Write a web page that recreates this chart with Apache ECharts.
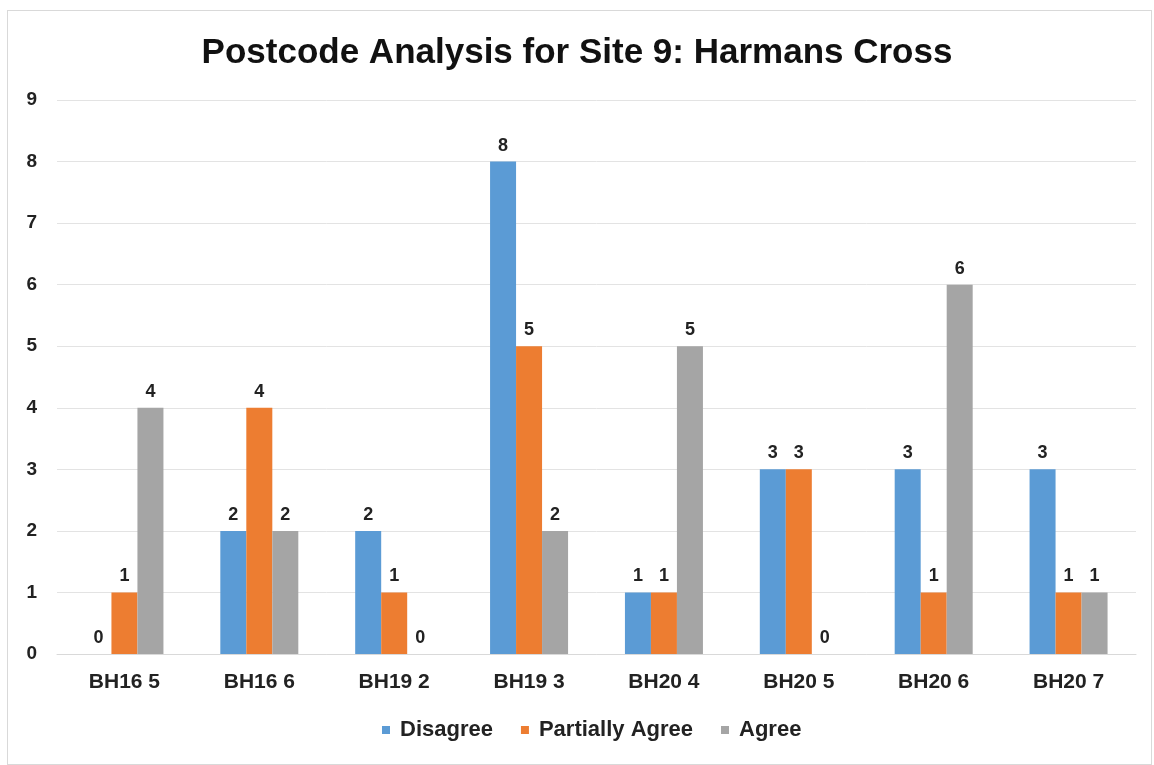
<!DOCTYPE html>
<html>
<head>
<meta charset="utf-8">
<script src="https://cdn.jsdelivr.net/npm/echarts@6/dist/echarts.min.js"></script>
<style>
  html, body { margin: 0; padding: 0; background: #fff; }
  #frame { position: absolute; left: 7px; top: 10px; width: 1145px; height: 755px; border: 1px solid #d9d9d9; box-sizing: border-box; }
  #main { width: 1154px; height: 765px; }
</style>
</head>
<body>
<div id="frame"></div>
<div id="main"></div>
<script>
  // chart data
  var categories = ['BH16 5', 'BH16 6', 'BH19 2', 'BH19 3', 'BH20 4', 'BH20 5', 'BH20 6', 'BH20 7'];
  var disagree = [0, 2, 2, 8, 1, 3, 3, 3];
  var partiallyAgree = [1, 4, 1, 5, 1, 3, 1, 1];
  var agree = [4, 2, 0, 2, 5, 0, 6, 1];
  var yTicks = [0, 1, 2, 3, 4, 5, 6, 7, 8, 9];

  var font = 'Liberation Sans, Arial, sans-serif';
  var label = { show: true, position: 'top', distance: 7, color: '#222', fontFamily: font, fontWeight: 'bold', fontSize: 18 };

  var myChart = echarts.init(document.getElementById('main'));
  myChart.setOption({
    animation: false,
    title: {
      text: 'Postcode Analysis for Site 9: Harmans Cross',
      left: 'center',
      top: 31,
      textStyle: { fontFamily: font, fontWeight: 'bold', fontSize: 35, color: '#111' }
    },
    legend: {
      bottom: 19,
      left: 377,
      itemWidth: 8,
      itemHeight: 8,
      itemGap: 28,
      icon: 'rect',
      textStyle: { fontFamily: font, fontWeight: 'bold', fontSize: 22, color: '#222', padding: [0, 0, 0, 5] },
      data: ['Disagree', 'Partially Agree', 'Agree']
    },
    grid: { left: 57, right: 18, top: 100, bottom: 111 },
    xAxis: {
      type: 'category',
      data: categories,
      axisTick: { show: false },
      axisLine: { lineStyle: { color: '#d9d9d9' } },
      axisLabel: { margin: 18, color: '#222', fontFamily: font, fontWeight: 'bold', fontSize: 21 }
    },
    yAxis: {
      type: 'value',
      min: yTicks[0],
      max: yTicks[yTicks.length - 1],
      interval: 1,
      axisLabel: { margin: 20, color: '#222', fontFamily: font, fontWeight: 'bold', fontSize: 19 },
      splitLine: { lineStyle: { color: '#e3e3e3' } }
    },
    series: [
      { name: 'Disagree', type: 'bar', data: disagree, barWidth: 26, barGap: '0%', itemStyle: { color: '#5b9bd5' }, label: label },
      { name: 'Partially Agree', type: 'bar', data: partiallyAgree, barWidth: 26, barGap: '0%', itemStyle: { color: '#ed7d31' }, label: label },
      { name: 'Agree', type: 'bar', data: agree, barWidth: 26, barGap: '0%', itemStyle: { color: '#a5a5a5' }, label: label }
    ]
  });
</script>
</body>
</html>
